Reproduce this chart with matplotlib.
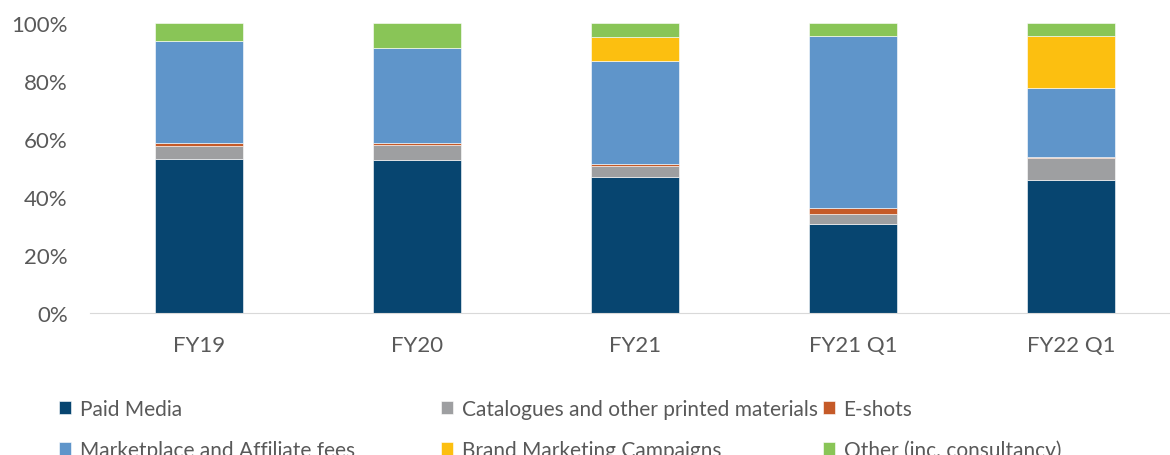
import matplotlib
matplotlib.use("Agg")
import matplotlib.pyplot as plt
import numpy as np

plt.rcParams['font.family'] = ['Lato', 'DejaVu Sans']

# data (% share of marketing spend)
periods = ['FY19', 'FY20', 'FY21', 'FY21 Q1', 'FY22 Q1']
paid_media = [53.2, 52.9, 46.8, 30.8, 46.0]
catalogues = [4.4, 5.0, 3.9, 3.4, 7.6]
e_shots = [0.9, 0.8, 0.8, 1.9, 0.3]
marketplace = [35.4, 32.6, 35.4, 59.5, 23.6]
brand_campaigns = [0.0, 0.0, 8.2, 0.0, 18.0]
other = [6.1, 8.7, 4.9, 4.4, 4.5]

series = [
    ('Paid Media', paid_media, '#074570'),
    ('Catalogues and other printed materials', catalogues, '#9E9FA1'),
    ('E-shots', e_shots, '#C55A28'),
    ('Marketplace and Affiliate fees', marketplace, '#5F95CA'),
    ('Brand Marketing Campaigns', brand_campaigns, '#FCBF10'),
    ('Other (inc. consultancy)', other, '#89C557'),
]

fig = plt.figure(figsize=(11.7, 4.56), dpi=100)
ax = fig.add_axes([90 / 1170, 142 / 456, 1090 / 1170, 290 / 456])

x = np.arange(len(periods))
bottom = np.zeros(len(periods))
handles = {}
for name, vals, color in series:
    vals = np.array(vals)
    b = ax.bar(x, vals, 0.40, bottom=bottom, color=color, edgecolor='white',
               linewidth=0.4, label=name)
    handles[name] = b
    bottom += vals

ax.set_xlim(-0.5, 4.5)
ax.set_ylim(0, 100)
ax.set_yticks(range(0, 101, 20))
ax.set_yticklabels([f'{v}%' for v in range(0, 101, 20)])
ax.set_xticks(x)
ax.set_xticklabels(periods)
ax.tick_params(axis='both', length=0, labelsize=16, colors='#595959')
ax.tick_params(axis='y', pad=16)
ax.tick_params(axis='x', pad=16)
for s in ['top', 'right', 'left']:
    ax.spines[s].set_visible(False)
ax.spines['bottom'].set_color('#D9D9D9')

leg_kw = dict(frameon=False, fontsize=15, labelcolor='#595959', handlelength=0.6,
              handleheight=0.6, handletextpad=0.4, labelspacing=1.0)
names = [s[0] for s in series]
first = [names[0], names[3], names[1], names[4]]
fig.legend([handles[n] for n in first], first, ncol=2, loc='upper left',
           bbox_to_anchor=(40 / 1170, 1 - 381 / 456), columnspacing=4.13, **leg_kw)
second = [names[2], names[5]]
fig.legend([handles[n] for n in second], second, ncol=1, loc='upper left',
           bbox_to_anchor=(804 / 1170, 1 - 381 / 456), **leg_kw)

fig.savefig('out.png', dpi=100)
